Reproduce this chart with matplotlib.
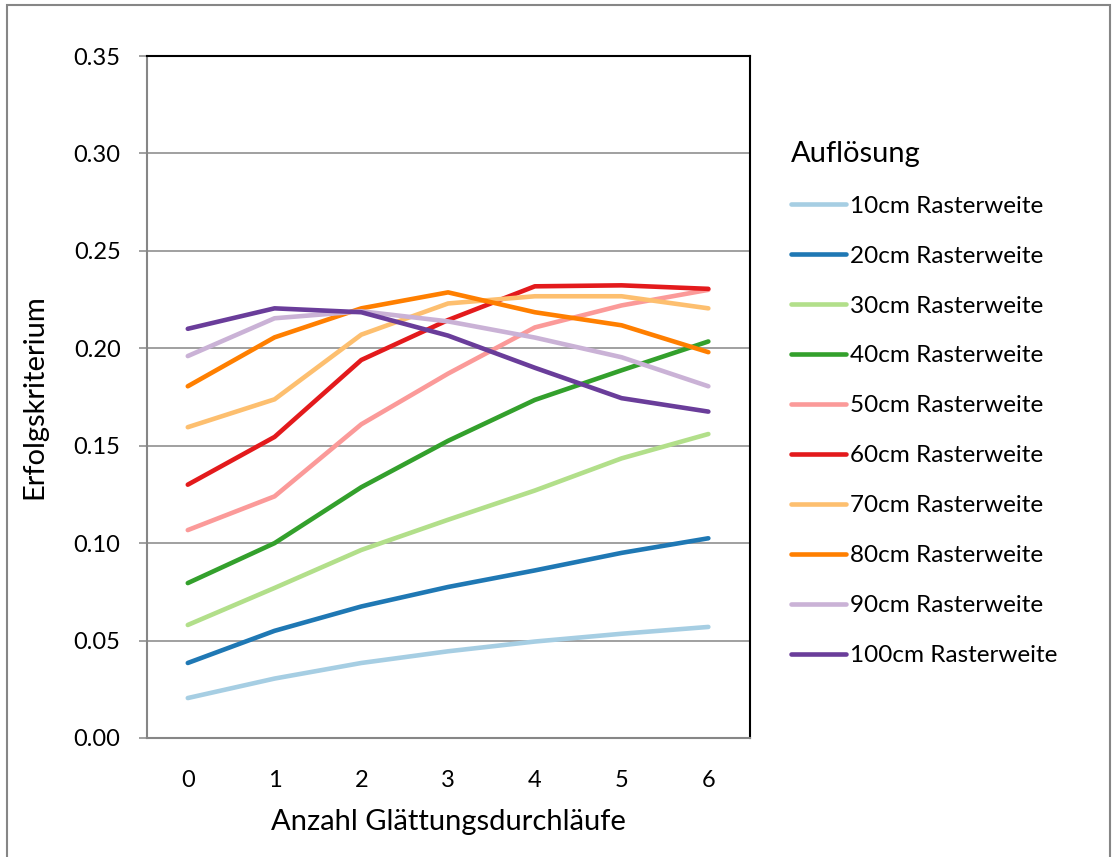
import matplotlib
matplotlib.use("Agg")
import matplotlib.pyplot as plt
from matplotlib.patches import Rectangle

plt.rcParams['font.family'] = ['Lato', 'DejaVu Sans']

durchlaeufe = [0, 1, 2, 3, 4, 5, 6]
aufloesung = ["10cm Rasterweite", "20cm Rasterweite", "30cm Rasterweite",
              "40cm Rasterweite", "50cm Rasterweite", "60cm Rasterweite",
              "70cm Rasterweite", "80cm Rasterweite", "90cm Rasterweite",
              "100cm Rasterweite"]

r10 = [0.0205, 0.0305, 0.0385, 0.0445, 0.0495, 0.0535, 0.0570]
r20 = [0.0385, 0.0550, 0.0675, 0.0775, 0.0860, 0.0950, 0.1025]
r30 = [0.0580, 0.0770, 0.0965, 0.1120, 0.1270, 0.1435, 0.1560]
r40 = [0.0795, 0.1000, 0.1287, 0.1525, 0.1735, 0.1887, 0.2035]
r50 = [0.1067, 0.1240, 0.1610, 0.1870, 0.2107, 0.2220, 0.2300]
r60 = [0.1300, 0.1545, 0.1940, 0.2145, 0.2318, 0.2323, 0.2305]
r70 = [0.1595, 0.1738, 0.2070, 0.2230, 0.2267, 0.2267, 0.2205]
r80 = [0.1805, 0.2056, 0.2205, 0.2287, 0.2185, 0.2118, 0.1980]
r90 = [0.1960, 0.2154, 0.2190, 0.2138, 0.2055, 0.1954, 0.1805]
r100 = [0.2100, 0.2205, 0.2185, 0.2065, 0.1900, 0.1744, 0.1675]
werte = [r10, r20, r30, r40, r50, r60, r70, r80, r90, r100]

farben = ["#a6cee3", "#1f78b4", "#b2df8a", "#33a02c", "#fb9a99",
          "#e31a1c", "#fdbf6f", "#ff7f00", "#cab2d6", "#6a3d9a"]

fig = plt.figure(figsize=(11.19, 8.57), dpi=100)
fig.patches.append(Rectangle((7 / 1119, -0.05), 1103 / 1119, 1.05 - 5 / 857,
                             transform=fig.transFigure, fill=False,
                             edgecolor="#868686", linewidth=1.5))

ax = fig.add_axes([147 / 1119, 119 / 857, 603 / 1119, 682 / 857])

for y, lbl, c in zip(werte, aufloesung, farben):
    ax.plot(durchlaeufe, y, color=c, lw=3.3, label=lbl,
            solid_capstyle="round", solid_joinstyle="round", zorder=3)

ax.set_xlim(-0.47, 6.48)
ax.set_ylim(0, 0.35)
ax.set_xticks(durchlaeufe)
ax.set_yticks([i * 0.05 for i in range(8)])
ax.set_yticklabels([f"{i * 0.05:.2f}" for i in range(8)])
ax.grid(axis="y", color="#868686", lw=1.1, zorder=1)
ax.tick_params(axis="y", length=6, width=1.1, color="#868686",
               labelsize=17, pad=13)
ax.tick_params(axis="x", length=0, labelsize=17, pad=23)

for s in ["left", "bottom"]:
    ax.spines[s].set_color("#868686")
    ax.spines[s].set_linewidth(1.5)
for s in ["top", "right"]:
    ax.spines[s].set_color("black")
    ax.spines[s].set_linewidth(1.5)

ax.set_ylabel("Erfolgskriterium", fontsize=21, va="center")
ax.yaxis.set_label_coords(-0.186, 0.5)
ax.set_xlabel("Anzahl Glättungsdurchläufe", fontsize=21, va="center")
ax.xaxis.set_label_coords(0.5, -0.123)

leg = ax.legend(loc="upper left", bbox_to_anchor=(1.052, 0.89),
                frameon=False, fontsize=17.5, title="Auflösung",
                title_fontsize=21, alignment="left", handlelength=2.26,
                handletextpad=0.16, labelspacing=1.19, borderaxespad=0)

fig.savefig("out.png", dpi=100)
